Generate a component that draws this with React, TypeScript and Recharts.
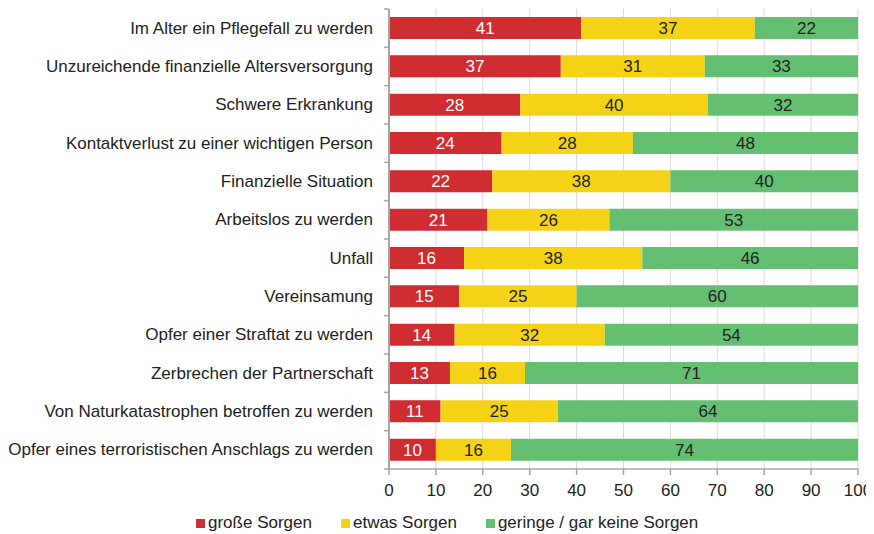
import React from "react";
import { BarChart, Bar, XAxis, YAxis, CartesianGrid, Legend, LabelList } from "recharts";

const categories = [
  "Im Alter ein Pflegefall zu werden",
  "Unzureichende finanzielle Altersversorgung",
  "Schwere Erkrankung",
  "Kontaktverlust zu einer wichtigen Person",
  "Finanzielle Situation",
  "Arbeitslos zu werden",
  "Unfall",
  "Vereinsamung",
  "Opfer einer Straftat zu werden",
  "Zerbrechen der Partnerschaft",
  "Von Naturkatastrophen betroffen zu werden",
  "Opfer eines terroristischen Anschlags zu werden",
];
const grosseSorgen = [41, 37, 28, 24, 22, 21, 16, 15, 14, 13, 11, 10];
const etwasSorgen = [37, 31, 40, 28, 38, 26, 38, 25, 32, 16, 25, 16];
const geringeSorgen = [22, 33, 32, 48, 40, 53, 46, 60, 54, 71, 64, 74];
const seriesNames = ["große Sorgen", "etwas Sorgen", "geringe / gar keine Sorgen"];
const xTickLabels = [0, 10, 20, 30, 40, 50, 60, 70, 80, 90, 100];

const COLORS = ["#cf2d32", "#f4d317", "#64bf73"];
const FONT = "'Liberation Sans', Arial, Helvetica, sans-serif";
const TEXT = "#222222";
const AXIS = "#a6a6a6";

const data = categories.map((name, i) => ({
  name,
  gross: grosseSorgen[i],
  etwas: etwasSorgen[i],
  gering: geringeSorgen[i],
}));

const Y_TICK_SIZE = 6;
const Y_TICK_MARGIN = 10;

const CategoryTick = (props: any) => {
  const { x, y, payload, index, visibleTicksCount } = props;
  const axisX = x + Y_TICK_SIZE + Y_TICK_MARGIN;
  const off = payload && typeof payload.offset === "number" ? payload.offset : 0;
  return (
    <g>
      <text
        x={x}
        y={y}
        textAnchor="end"
        dominantBaseline="central"
        fontFamily={FONT}
        fontSize={17}
        fill={TEXT}
      >
        {payload.value}
      </text>
      {off > 0 && (
        <line x1={axisX - 5} x2={axisX} y1={y - off} y2={y - off} stroke={AXIS} strokeWidth={1.5} />
      )}
      {off > 0 && index === visibleTicksCount - 1 && (
        <line x1={axisX - 5} x2={axisX} y1={y + off} y2={y + off} stroke={AXIS} strokeWidth={1.5} />
      )}
    </g>
  );
};

const LegendContent = () => (
  <div style={{ display: "flex", alignItems: "center", fontFamily: FONT, fontSize: 17, color: TEXT }}>
    {seriesNames.map((n, i) => (
      <div key={n} style={{ display: "flex", alignItems: "center", marginRight: 29 }}>
        <span style={{ display: "inline-block", width: 9, height: 9, background: COLORS[i], marginRight: 3 }} />
        <span style={{ lineHeight: "20px" }}>{n}</span>
      </div>
    ))}
  </div>
);

export default function App() {
  return (
    <BarChart
      width={866}
      height={526}
      data={data}
      layout="vertical"
      stackOffset="expand"
      margin={{ top: 1, right: 16, bottom: 35, left: 0 }}
      barSize={22}
    >
      <CartesianGrid horizontal={false} vertical={true} stroke="#dadada" strokeWidth={1} />
      <XAxis
        type="number"
        domain={[0, 1]}
        ticks={xTickLabels.map((t) => t / 100)}
        tickFormatter={(v: number) => String(Math.round(v * 100))}
        height={30}
        tickSize={6}
        tickMargin={9}
        axisLine={{ stroke: AXIS, strokeWidth: 1.5 }}
        tickLine={{ stroke: AXIS, strokeWidth: 1.5 }}
        tick={{ fontFamily: FONT, fontSize: 17, fill: TEXT }}
        interval={0}
      />
      <YAxis
        type="category"
        dataKey="name"
        width={381}
        tickSize={Y_TICK_SIZE}
        tickMargin={Y_TICK_MARGIN}
        tickLine={false}
        axisLine={{ stroke: AXIS, strokeWidth: 2 }}
        tick={<CategoryTick />}
        interval={0}
      />
      <Legend
        layout="horizontal"
        verticalAlign="middle"
        align="center"
        content={<LegendContent />}
        wrapperStyle={{ top: 505, left: 188, width: 620, height: 20 }}
      />
      <Bar dataKey="gross" name={seriesNames[0]} stackId="a" fill={COLORS[0]} isAnimationActive={false}>
        <LabelList dataKey="gross" position="center" fill="#ffffff" fontFamily={FONT} fontSize={17} />
      </Bar>
      <Bar dataKey="etwas" name={seriesNames[1]} stackId="a" fill={COLORS[1]} isAnimationActive={false}>
        <LabelList dataKey="etwas" position="center" fill={TEXT} fontFamily={FONT} fontSize={17} />
      </Bar>
      <Bar dataKey="gering" name={seriesNames[2]} stackId="a" fill={COLORS[2]} isAnimationActive={false}>
        <LabelList dataKey="gering" position="center" fill={TEXT} fontFamily={FONT} fontSize={17} />
      </Bar>
    </BarChart>
  );
}
